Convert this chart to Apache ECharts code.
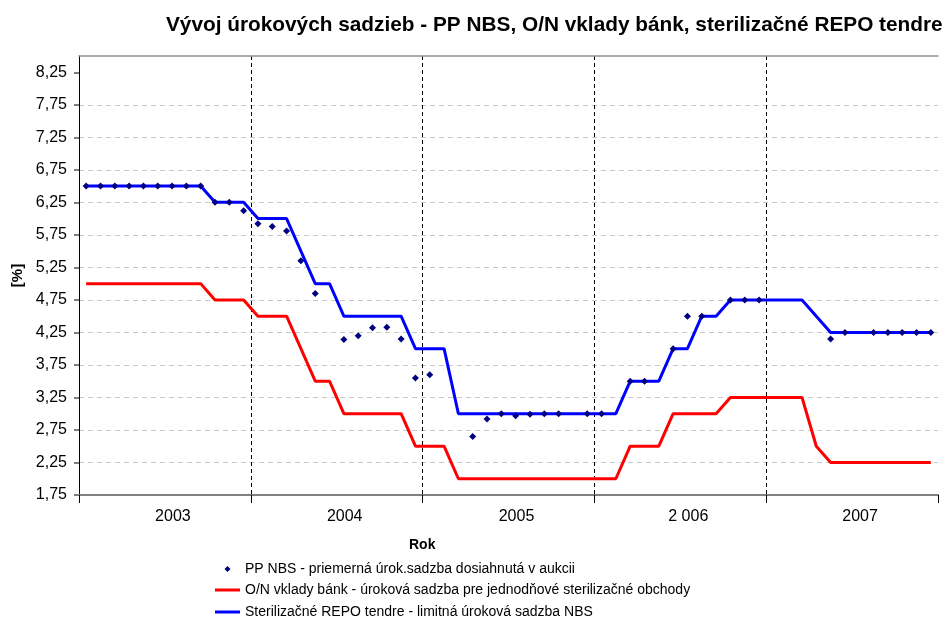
<!DOCTYPE html>
<html>
<head>
<meta charset="utf-8">
<script src="https://cdn.jsdelivr.net/npm/echarts@6/dist/echarts.min.js"></script>
<style>
html, body { margin: 0; padding: 0; background: #fff; }
#main { width: 946px; height: 621px; }
</style>
</head>
<body>
<div id="main"></div>
<script>
// roky na osi x
var years = ['2003', '2004', '2005', '2 006', '2007'];
// mesiace 2003-01 .. 2007-12
var months = [];
for (var y = 2003; y <= 2007; y++) {
	for (var m = 1; m <= 12; m++) {
		months.push(y + '-' + (m < 10 ? '0' + m : m));
	}
}
// hodnoty na osi y
var yTicks = [1.75, 2.25, 2.75, 3.25, 3.75, 4.25, 4.75, 5.25, 5.75, 6.25, 6.75, 7.25, 7.75, 8.25];

// PP NBS - priemerna urok. sadzba dosiahnuta v aukcii
var ppNbs = [
	6.5, 6.5, 6.5, 6.5, 6.5, 6.5, 6.5, 6.5, 6.5, 6.25, 6.25, 6.12,
	5.92, 5.88, 5.81, 5.35, 4.85, null, 4.14, 4.2, 4.32, 4.33, 4.15, 3.55,
	3.6, null, null, 2.65, 2.92, 3.0, 2.97, 2.99, 3.0, 3.0, null, 3.0,
	3.0, null, 3.5, 3.5, null, 4.0, 4.5, 4.5, null, 4.75, 4.75, 4.75,
	null, null, null, null, 4.15, 4.25, null, 4.25, 4.25, 4.25, 4.25, 4.25
];
// O/N vklady bank
var onVklady = [
	5.0, 5.0, 5.0, 5.0, 5.0, 5.0, 5.0, 5.0, 5.0, 4.75, 4.75, 4.75,
	4.5, 4.5, 4.5, 4.0, 3.5, 3.5, 3.0, 3.0, 3.0, 3.0, 3.0, 2.5,
	2.5, 2.5, 2.0, 2.0, 2.0, 2.0, 2.0, 2.0, 2.0, 2.0, 2.0, 2.0,
	2.0, 2.0, 2.5, 2.5, 2.5, 3.0, 3.0, 3.0, 3.0, 3.25, 3.25, 3.25,
	3.25, 3.25, 3.25, 2.5, 2.25, 2.25, 2.25, 2.25, 2.25, 2.25, 2.25, 2.25
];
// sterilizacne REPO tendre - limitna sadzba
var repoLimit = [
	6.5, 6.5, 6.5, 6.5, 6.5, 6.5, 6.5, 6.5, 6.5, 6.25, 6.25, 6.25,
	6.0, 6.0, 6.0, 5.5, 5.0, 5.0, 4.5, 4.5, 4.5, 4.5, 4.5, 4.0,
	4.0, 4.0, 3.0, 3.0, 3.0, 3.0, 3.0, 3.0, 3.0, 3.0, 3.0, 3.0,
	3.0, 3.0, 3.5, 3.5, 3.5, 4.0, 4.0, 4.5, 4.5, 4.75, 4.75, 4.75,
	4.75, 4.75, 4.75, 4.5, 4.25, 4.25, 4.25, 4.25, 4.25, 4.25, 4.25, 4.25
];

var names = [
	'PP NBS - priemerná úrok.sadzba dosiahnutá v aukcii',
	'O/N vklady bánk - úroková sadzba pre jednodňové sterilizačné obchody',
	'Sterilizačné REPO tendre - limitná úroková sadzba NBS'
];

var font = 'Arial, "Liberation Sans", sans-serif';
var lineIcon = 'path://M0,0H25V3H0Z';
var dotIcon = 'path://M0,3L0.01,3M9.5,3L12.5,0L15.5,3L12.5,6ZM24.99,3L25,3';

function legendItem(name, icon, top, h) {
	return {
		data: [{ name: name, icon: icon }],
		left: 210,
		top: top,
		itemWidth: 25,
		itemHeight: h,
		textStyle: { fontSize: 14, color: '#000', fontFamily: font }
	};
}

var myChart = echarts.init(document.getElementById('main'));
var option = {
	backgroundColor: '#fff',
	textStyle: { fontFamily: font },
	title: [{
		text: 'Vývoj úrokových sadzieb - PP NBS, O/N vklady bánk, sterilizačné REPO tendre',
		left: 161,
		top: 10,
		textStyle: { fontSize: 20.8, fontWeight: 'bold', color: '#000', fontFamily: font }
	}, {
		text: 'Rok',
		left: 404,
		top: 533,
		textStyle: { fontSize: 14, fontWeight: 'bold', color: '#000', fontFamily: font }
	}],
	legend: [
		legendItem(names[0], dotIcon, 557, 6),
		legendItem(names[1], lineIcon, 578, 3),
		legendItem(names[2], lineIcon, 600, 3)
	],
	grid: { left: 79, right: 8, top: 56, bottom: 126 },
	xAxis: [{
		type: 'category',
		data: months,
		boundaryGap: true,
		axisLine: { show: false },
		axisTick: { show: false },
		axisLabel: { show: false },
		splitLine: { show: false }
	}, {
		type: 'category',
		data: years,
		position: 'bottom',
		boundaryGap: true,
		axisLine: { show: true, lineStyle: { color: '#808080', width: 2 } },
		axisTick: { show: true, length: 8, lineStyle: { color: '#000' } },
		axisLabel: { fontSize: 16, color: '#000', margin: 14, padding: [0, 0, 0, 16] },
		splitLine: {
			show: true,
			showMinLine: false,
			showMaxLine: false,
			lineStyle: { color: '#000', type: [4, 3], width: 1 }
		}
	}, {
		// horny okraj grafu
		type: 'category',
		data: years,
		position: 'top',
		axisLine: { show: true, lineStyle: { color: '#909090', width: 1.5 } },
		axisTick: { show: false },
		axisLabel: { show: false },
		splitLine: { show: false }
	}],
	yAxis: {
		type: 'value',
		min: 1.75,
		max: 8.5,
		interval: 0.5,
		name: '[%]',
		nameLocation: 'middle',
		nameRotate: 90,
		nameGap: 53,
		nameTextStyle: { fontSize: 15, fontWeight: 'bold', color: '#000' },
		axisLine: { show: true, lineStyle: { color: '#000', width: 1 } },
		axisTick: {
			show: true,
			length: 5,
			customValues: yTicks,
			lineStyle: { color: '#808080', width: 2 }
		},
		axisLabel: {
			fontSize: 16,
			color: '#000',
			margin: 12,
			customValues: yTicks,
			formatter: function(v) { return v.toFixed(2).replace('.', ','); }
		},
		splitLine: {
			show: true,
			showMaxLine: false,
			lineStyle: { color: '#c8c8c8', type: [5, 4], width: 1 }
		}
	},
	series: [{
		name: names[0],
		type: 'scatter',
		xAxisIndex: 0,
		data: ppNbs,
		symbol: 'diamond',
		symbolSize: 7,
		itemStyle: { color: '#000080', opacity: 1 },
		z: 5
	}, {
		name: names[1],
		type: 'line',
		xAxisIndex: 0,
		data: onVklady,
		symbol: 'none',
		lineStyle: { color: '#ff0000', width: 3 },
		itemStyle: { color: '#ff0000' },
		z: 3
	}, {
		name: names[2],
		type: 'line',
		xAxisIndex: 0,
		data: repoLimit,
		symbol: 'none',
		lineStyle: { color: '#0000ff', width: 3 },
		itemStyle: { color: '#0000ff' },
		z: 3
	}]
};
myChart.setOption(option);
</script>
</body>
</html>
